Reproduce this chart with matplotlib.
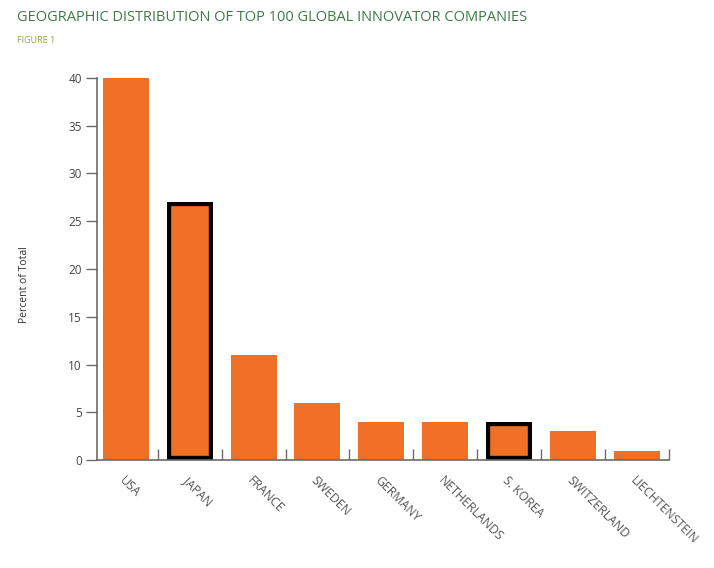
import matplotlib
matplotlib.use("Agg")
import matplotlib.pyplot as plt
import numpy as np

# values
countries = ["USA", "JAPAN", "FRANCE", "SWEDEN", "GERMANY", "NETHERLANDS",
             "S. KOREA", "SWITZERLAND", "LIECHTENSTEIN"]
percent = [40, 27, 11, 6, 4, 4, 4, 3, 1]
highlighted = ["JAPAN", "S. KOREA"]
yticks = [0, 5, 10, 15, 20, 25, 30, 35, 40]

ORANGE = "#F07126"
GREY = "#6b6b6b"

plt.rcParams['font.family'] = ['Open Sans', 'DejaVu Sans']

fig = plt.figure(figsize=(7.14, 5.68), dpi=100)
ax = fig.add_axes([0.1359, 0.190, 0.801, 0.673])

x = np.arange(len(countries))
bars = ax.bar(x, percent, width=0.72, color=ORANGE, linewidth=0, zorder=2)
# black outline drawn on the inside of the highlighted bars
for b, c in zip(bars, countries):
    if c in highlighted:
        b.set_edgecolor("black")
        b.set_linewidth(6)
        b.set_clip_path(b)

ax.set_xlim(-0.45, len(countries) - 0.5)
ax.set_ylim(0, 40)
ax.set_yticks(yticks)
ax.tick_params(axis='y', direction='out', length=8, width=1, color=GREY,
               labelsize=8.5, labelcolor="#444444", pad=3)

# category labels at centres, tick marks at boundaries pointing inward
ax.set_xticks(x)
ax.set_xticklabels(countries, rotation=-45, ha='left', rotation_mode='anchor',
                   fontsize=8.8, color="#555555")
ax.tick_params(axis='x', which='major', length=0, pad=10)
ax.set_xticks(np.arange(1, len(countries) + 1) - 0.5, minor=True)
ax.tick_params(axis='x', which='minor', direction='in', length=8, width=1, color=GREY)

for s in ["top", "right"]:
    ax.spines[s].set_visible(False)
for s in ["left", "bottom"]:
    ax.spines[s].set_color(GREY)
    ax.spines[s].set_linewidth(1.2)

ax.set_ylabel("Percent of Total", fontsize=7.5, color="#333333")
ax.yaxis.set_label_coords(-0.117, 0.46)

fig.text(0.024, 0.970, "GEOGRAPHIC DISTRIBUTION OF TOP 100 GLOBAL INNOVATOR COMPANIES",
         fontsize=10.5, color="#3d7a4a", va='center', ha='left')
fig.text(0.024, 0.929, "FIGURE 1", fontsize=6.5, color="#8ea43c", va='center', ha='left')

fig.savefig("out.png", dpi=100)
